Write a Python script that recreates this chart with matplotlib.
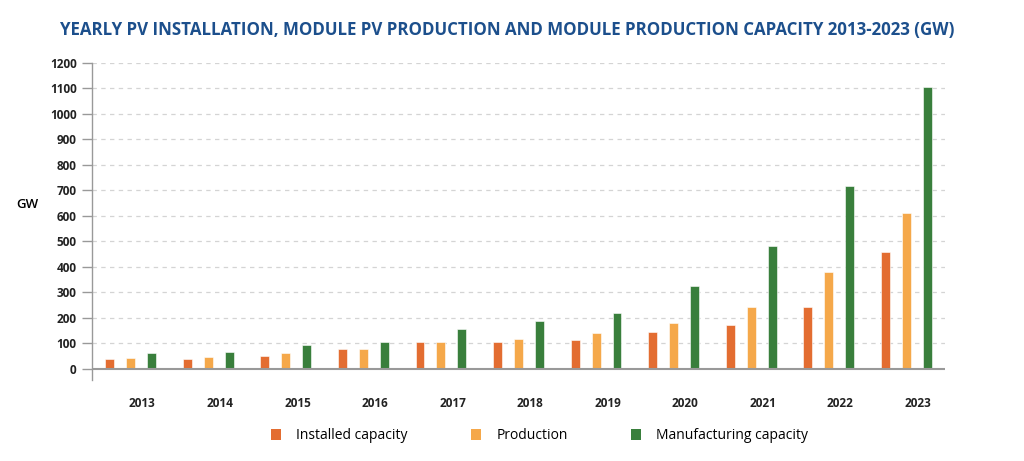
import matplotlib.pyplot as plt
import numpy as np
from matplotlib.patches import Patch

plt.rcParams['font.family'] = ['Open Sans', 'DejaVu Sans']

years = ['2013', '2014', '2015', '2016', '2017', '2018',
         '2019', '2020', '2021', '2022', '2023']
installed = [38, 38, 50, 75, 103, 103, 112, 145, 172, 242, 459]
production = [40, 47, 63, 78, 103, 116, 141, 179, 242, 379, 610]
manufacturing = [60, 65, 93, 103, 155, 185, 220, 325, 482, 718, 1105]

series_names = ['Installed capacity', 'Production', 'Manufacturing capacity']
colors = ['#e36d31', '#f5a84a', '#397f3c']

fig = plt.figure(figsize=(10.24, 4.61), dpi=100)
ax = fig.add_axes([0.0898, 0.1757, 0.8331, 0.6876])

x = np.arange(len(years))
width = 0.115
offsets = [-0.27, 0.0, 0.27]
for vals, off, col in zip([installed, production, manufacturing], offsets, colors):
    ax.bar(x + off, vals, width, color=col, edgecolor='white', linewidth=0.4, zorder=3)

ax.set_xlim(-0.5, 10.5)
ax.set_ylim(-45, 1200)
ax.set_yticks(np.arange(0, 1201, 100))
ax.set_yticklabels([str(v) for v in range(0, 1201, 100)], fontsize=8.5, fontweight='bold',
                   color='#222222')
ax.set_xticks(x + 0.15)
ax.set_xticklabels(years, fontsize=8.5, fontweight='bold', color='#222222')
ax.tick_params(axis='x', length=0, pad=12)
ax.tick_params(axis='y', length=7, width=1, color='#999999', pad=4)

# dashed grid every 100 GW
for v in range(100, 1201, 100):
    ax.axhline(v, color='#d4d4d4', linestyle=(0, (3.5, 3.5)), linewidth=0.9, zorder=1)
ax.axhline(0, color='#999999', linewidth=1.5, zorder=4)

for s in ['top', 'right', 'bottom']:
    ax.spines[s].set_visible(False)
ax.spines['left'].set_color('#999999')
ax.spines['left'].set_linewidth(1)

fig.text(0.027, 0.557, 'GW', fontsize=9.5, fontweight='semibold', ha='center', va='center')

fig.text(0.4955, 0.935, 'YEARLY PV INSTALLATION, MODULE PV PRODUCTION AND MODULE PRODUCTION CAPACITY 2013-2023 (GW)',
         fontsize=12.2, fontweight='bold', color='#1c4f8c', ha='center', va='center')

handles = [Patch(facecolor=c, label=n) for c, n in zip(colors, series_names)]
fig.legend(handles=handles, loc='center', bbox_to_anchor=(0.527, 0.055), ncol=3,
           frameon=False, fontsize=10, handlelength=0.7, handleheight=0.9,
           handletextpad=1.1, columnspacing=4.6)

plt.savefig('out.png', dpi=100)
